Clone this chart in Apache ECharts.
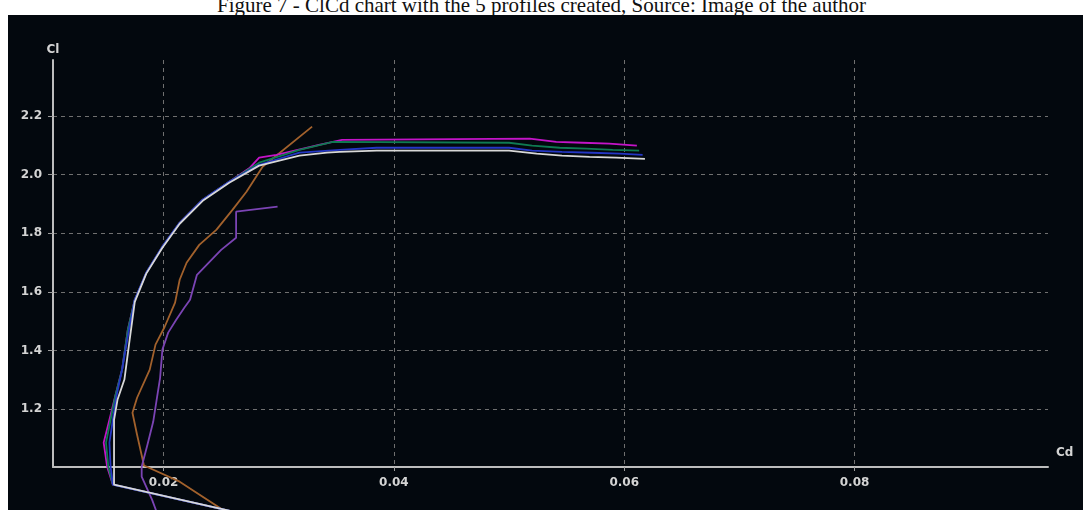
<!DOCTYPE html>
<html>
<head>
<meta charset="utf-8">
<script src="https://cdn.jsdelivr.net/npm/echarts@6/dist/echarts.min.js"></script>
<style>
  html, body { margin: 0; padding: 0; background: #ffffff; }
  #caption {
    position: absolute; left: 0; top: -5px; width: 1083px;
    text-align: center; font: 21px/21px 'Liberation Serif', serif; color: #111;
  }
  #main { position: absolute; left: 8px; top: 15px; width: 1075px; height: 495px; }
</style>
</head>
<body>
<div id="caption">Figure 7 - ClCd chart with the 5 profiles created, Source: Image of the author</div>
<div id="main"></div>
<script>
// tick labels
var cdTicks = [0.02, 0.04, 0.06, 0.08]
var clTicks = [1.2, 1.4, 1.6, 1.8, 2.0, 2.2]

// polars, Cd / Cl
var magentaCd = [0.0318, 0.0156, 0.0151, 0.0148, 0.0153, 0.0158, 0.0164, 0.0169, 0.0175, 0.0185, 0.0199, 0.0214, 0.0234, 0.0257, 0.0275, 0.0283, 0.0298, 0.0335, 0.0355, 0.0518, 0.0541, 0.0564, 0.0587, 0.0611]
var magentaCl = [0.800, 0.943, 1.004, 1.086, 1.164, 1.243, 1.335, 1.471, 1.573, 1.665, 1.754, 1.835, 1.914, 1.975, 2.023, 2.057, 2.067, 2.101, 2.118, 2.122, 2.111, 2.108, 2.105, 2.098]

var greenCd = [0.0318, 0.0156, 0.0152, 0.0150, 0.0154, 0.0158, 0.0164, 0.0169, 0.0175, 0.0185, 0.0199, 0.0214, 0.0234, 0.0257, 0.0283, 0.0318, 0.0347, 0.0500, 0.0520, 0.0544, 0.0567, 0.0590, 0.0613]
var greenCl = [0.800, 0.943, 1.004, 1.086, 1.164, 1.243, 1.335, 1.471, 1.573, 1.665, 1.754, 1.835, 1.914, 1.975, 2.040, 2.084, 2.111, 2.108, 2.098, 2.091, 2.088, 2.084, 2.081]

var blueCd = [0.0318, 0.0156, 0.0154, 0.0153, 0.0156, 0.0159, 0.0164, 0.0170, 0.0175, 0.0185, 0.0199, 0.0214, 0.0234, 0.0257, 0.0283, 0.0318, 0.0353, 0.0385, 0.0500, 0.0520, 0.0546, 0.0572, 0.0596, 0.0616]
var blueCl = [0.800, 0.943, 1.004, 1.086, 1.164, 1.243, 1.335, 1.471, 1.573, 1.665, 1.754, 1.835, 1.914, 1.975, 2.033, 2.074, 2.084, 2.091, 2.091, 2.081, 2.077, 2.074, 2.071, 2.067]

var whiteCd = [0.0318, 0.0157, 0.0157, 0.0160, 0.0166, 0.0170, 0.0175, 0.0185, 0.0199, 0.0214, 0.0234, 0.0257, 0.0283, 0.0318, 0.0342, 0.0353, 0.0385, 0.0500, 0.0524, 0.0546, 0.0570, 0.0593, 0.0618]
var whiteCl = [0.800, 0.943, 1.164, 1.232, 1.301, 1.420, 1.566, 1.662, 1.750, 1.832, 1.910, 1.972, 2.030, 2.064, 2.074, 2.077, 2.081, 2.081, 2.071, 2.064, 2.060, 2.057, 2.053]

var brownCd = [0.0283, 0.0251, 0.0214, 0.0183, 0.0177, 0.0173, 0.0177, 0.0188, 0.0193, 0.0201, 0.0210, 0.0214, 0.0220, 0.0231, 0.0246, 0.0260, 0.0272, 0.0286, 0.0329]
var brownCl = [0.790, 0.858, 0.953, 1.008, 1.113, 1.188, 1.239, 1.335, 1.420, 1.481, 1.563, 1.641, 1.699, 1.760, 1.812, 1.880, 1.941, 2.026, 2.163]

var purpleCd = [0.0198, 0.0190, 0.0181, 0.0181, 0.0186, 0.0191, 0.0194, 0.0197, 0.0199, 0.0204, 0.0211, 0.0218, 0.0223, 0.0229, 0.0250, 0.0263, 0.0263, 0.0299]
var purpleCl = [0.807, 0.892, 0.970, 1.004, 1.079, 1.157, 1.232, 1.307, 1.403, 1.461, 1.505, 1.546, 1.573, 1.658, 1.743, 1.784, 1.873, 1.890]

function pairs(xs, ys) {
  var out = []
  for (var i = 0; i < xs.length; i++) out.push([xs[i], ys[i]])
  return out
}

function polar(name, color, xs, ys) {
  return {
    name: name,
    type: 'line',
    data: pairs(xs, ys),
    showSymbol: false,
    clip: false,
    animation: false,
    lineStyle: { color: color, width: 1.8 }
  }
}

var chart = echarts.init(document.getElementById('main'))
var labelStyle = { color: '#d4d4d4', fontFamily: 'DejaVu Sans', fontSize: 12, fontWeight: 'bold' }

chart.setOption({
  backgroundColor: '#03080e',
  animation: false,
  grid: { left: 45, right: 35, top: 45, bottom: 43 },
  xAxis: {
    type: 'value',
    min: 0.0104,
    max: 0.0968,
    name: 'Cd',
    nameLocation: 'end',
    nameGap: 8,
    nameTextStyle: Object.assign({ verticalAlign: 'bottom', padding: [0, 0, 8, 0] }, labelStyle),
    axisLine: { lineStyle: { color: '#bdbdbd', width: 2 } },
    axisTick: { show: true, length: 4, customValues: cdTicks, lineStyle: { color: '#9a9a9a' } },
    axisLabel: Object.assign({ customValues: cdTicks, margin: 10, formatter: function (v) { return v.toFixed(2) } }, labelStyle),
    splitLine: { show: true, lineStyle: { color: '#707070', type: [4, 4], width: 1 } }
  },
  yAxis: {
    type: 'value',
    min: 1.003,
    max: 2.39,
    name: 'Cl',
    nameLocation: 'end',
    nameGap: 4,
    nameTextStyle: Object.assign({ align: 'center' }, labelStyle),
    axisLine: { show: true, lineStyle: { color: '#bdbdbd', width: 2 } },
    axisTick: { show: true, length: 5, customValues: clTicks, lineStyle: { color: '#9a9a9a' } },
    axisLabel: Object.assign({ customValues: clTicks, margin: 11, formatter: function (v) { return v.toFixed(1) } }, labelStyle),
    splitLine: { show: true, lineStyle: { color: '#707070', type: [4, 4], width: 1 } }
  },
  series: [
    polar('brown', '#a2612c', brownCd, brownCl),
    polar('purple', '#7b44b4', purpleCd, purpleCl),
    polar('magenta', '#c414c8', magentaCd, magentaCl),
    polar('green', '#0f7a52', greenCd, greenCl),
    polar('blue', '#2436c4', blueCd, blueCl),
    polar('white', '#d8d8d8', whiteCd, whiteCl)
  ]
})
</script>
</body>
</html>
